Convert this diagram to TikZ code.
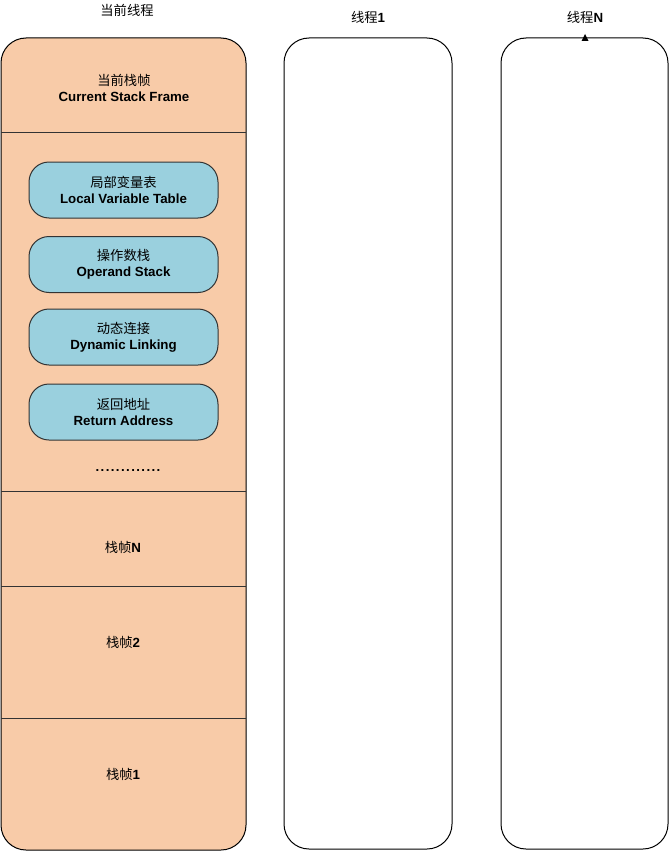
\documentclass[tikz,border=0pt]{standalone}
\usepackage{fontspec}
\setmainfont{Liberation Sans}
\newfontfamily\cjk{Noto Sans CJK SC}
\usetikzlibrary{calc}

\definecolor{framefill}{HTML}{F8CBA8}
\definecolor{slotfill}{HTML}{9AD0DE}
\definecolor{edgegray}{HTML}{333333}

\begin{document}
\begin{tikzpicture}[x=1pt, y=-1pt,
		lbl/.style={font=\fontsize{13.3}{16}\selectfont, align=center, inner sep=0pt},
		slot/.style={lbl, draw=edgegray, line width=1pt, fill=slotfill, rounded corners=20, minimum width=189, minimum height=56},
		thread/.style={draw=black, line width=1pt, rounded corners=25}]
			\useasboundingbox (0, 0) rectangle (670, 851);
			% threads
			\draw[thread, fill=framefill] (1, 38) rectangle (246, 850);
			\draw[thread] (284, 38) rectangle (452, 849);
			\draw[thread] (501, 38) rectangle (668, 849);
			\fill (585, 34) -- (588.5, 41) -- (581.5, 41) -- cycle;
			% frame separators
			\draw[edgegray, line width=1pt] (1, 132) -- (246, 132);
			\draw[edgegray, line width=1pt] (1, 491) -- (246, 491);
			\draw[edgegray, line width=1pt] (1, 586) -- (246, 586);
			\draw[edgegray, line width=1pt] (1, 718) -- (246, 718);
			% titles
			\node[lbl] (cur) at (127, 10) {\cjk 当前线程};
			\node[lbl] (th1) at (368, 17) {{\cjk 线程}\textbf{1}};
			\node[lbl] (thN) at (585, 17) {{\cjk 线程}\textbf{N}};
			% current frame
			\node[lbl] (curframe) at (124, 88) {{\cjk 当前栈帧}\\\textbf{Current Stack Frame}};
			\node[slot] (lvt) at (123.5, 190) {{\cjk 局部变量表}\\\textbf{Local Variable Table}};
			\node[slot] (ops) at (123.5, 264.5) {{\cjk 操作数栈}\\\textbf{Operand Stack}};
			\node[slot] (dyn) at (123.5, 337) {{\cjk 动态连接}\\\textbf{Dynamic Linking}};
			\node[slot] (ret) at (123.5, 412) {{\cjk 返回地址}\\\textbf{Return Address}};
			\node[lbl] (more) at (128, 471) {\textbf{.\kern1.4pt.\kern1.4pt.\kern1.4pt.\kern1.4pt.\kern1.4pt.\kern1.4pt.\kern1.4pt.\kern1.4pt.\kern1.4pt.\kern1.4pt.\kern1.4pt.\kern1.4pt.}};
			% older frames
			\node[lbl] (fN) at (123, 547) {{\cjk 栈帧}\textbf{N}};
			\node[lbl] (f2) at (123, 642) {{\cjk 栈帧}\textbf{2}};
			\node[lbl] (f1) at (123, 774) {{\cjk 栈帧}\textbf{1}};
		\end{tikzpicture}
\end{document}
